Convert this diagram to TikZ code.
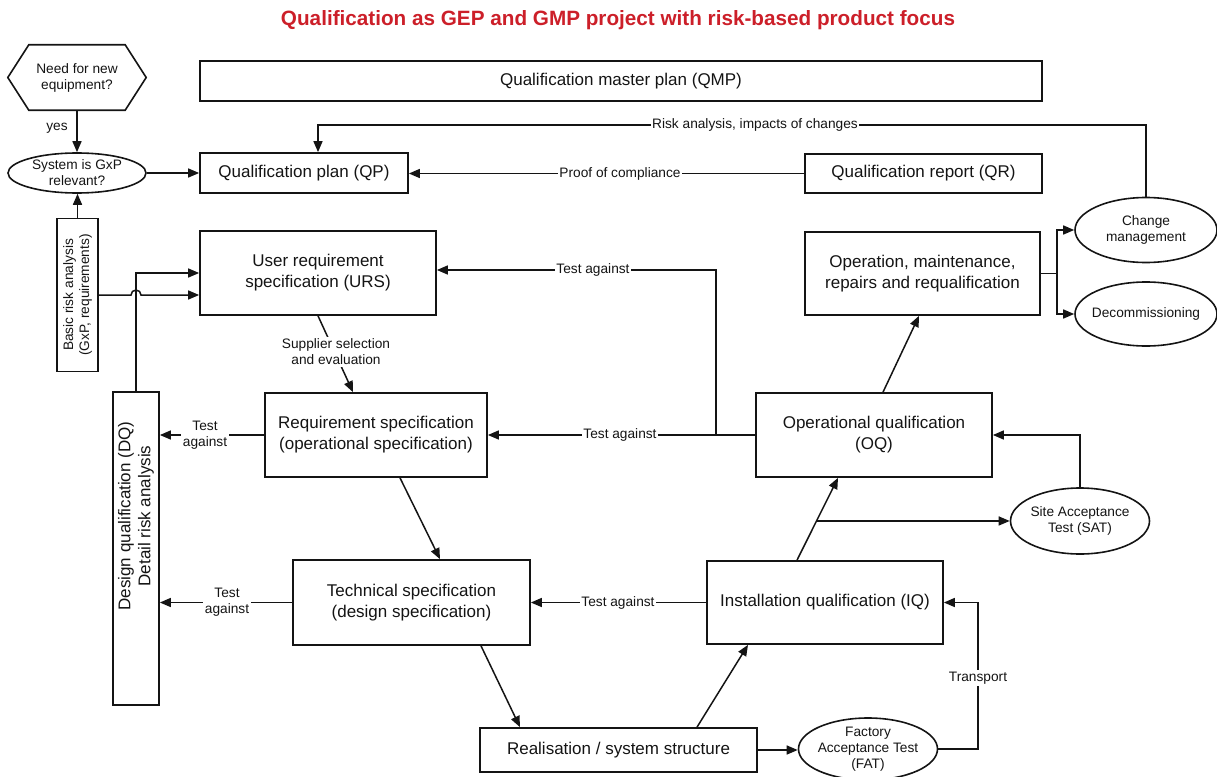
\documentclass[tikz,border=0pt]{standalone}
\usepackage{fontspec}
\setmainfont{Liberation Sans}
\usetikzlibrary{shapes.geometric,arrows.meta,calc}
\definecolor{titlered}{RGB}{204,31,41}
\definecolor{ink}{RGB}{20,20,20}
\begin{document}
\begin{tikzpicture}[x=1pt,y=-1pt,
  every node/.style={inner sep=0pt, text=ink},
  box/.style={draw=ink, line width=1.7pt, align=center, font=\fontsize{17}{21}\selectfont},
  ell/.style={draw=ink, line width=1.6pt, ellipse},
  txt/.style={align=center, font=\fontsize{13.7}{16}\selectfont},
  lbl/.style={fill=white, inner sep=1.5pt, align=center, font=\fontsize{13.7}{16}\selectfont},
  link/.style={draw=ink, line width=1.5pt},
  arr/.style={link, -{Triangle[length=11pt,width=9pt]}},
]
\useasboundingbox (0,0) rectangle (1217,776);

% heading
\node[font=\fontsize{20.7}{24}\selectfont\bfseries, text=titlered] (title) at (618,20)
  {Qualification as GEP and GMP project with risk-based product focus};

% entry decision and GxP check
\node[txt, minimum width=138pt, minimum height=65pt] (need) at (77,77.5) {Need for new\\equipment?};
\draw[link, line width=1.6pt] (need.west) -- ([xshift=21pt]need.north west)
  -- ([xshift=-21pt]need.north east) -- (need.east)
  -- ([xshift=-21pt]need.south east) -- ([xshift=21pt]need.south west) -- cycle;
\node[ell, minimum width=138pt, minimum height=40pt] (gxp) at (77,173) {};
\node[txt] (gxptxt) at (gxp.center) {System is GxP\\relevant?};
\node[box, minimum width=41pt, minimum height=153pt] (bra) at (77.5,295) {};
\node[txt, rotate=90] (bratxt) at (bra.center) {Basic risk analysis\\(GxP, requirements)};

% plans and reports
\node[box, minimum width=842pt, minimum height=40pt] (qmp) at (621,81) {Qualification master plan (QMP)};
\node[box, minimum width=208pt, minimum height=40pt] (qp) at (304,173) {Qualification plan (QP)};
\node[box, minimum width=237pt, minimum height=39pt] (qr) at (923.5,173.5) {Qualification report (QR)};

% V-model boxes
\node[box, minimum width=236pt, minimum height=84pt] (urs) at (318,273) {User requirement\\specification (URS)};
\node[box, minimum width=222pt, minimum height=84pt] (req) at (376,435) {Requirement specification\\(operational specification)};
\node[box, minimum width=237pt, minimum height=85pt] (tech) at (411.5,602.5) {Technical specification\\(design specification)};
\node[box, minimum width=277pt, minimum height=44pt] (real) at (618.5,750) {Realisation / system structure};
\node[box, minimum width=236pt, minimum height=83pt] (iq) at (825,602.5) {Installation qualification (IQ)};
\node[box, minimum width=236pt, minimum height=84pt] (oq) at (874,435) {Operational qualification\\(OQ)};
\node[box, minimum width=235pt, minimum height=83pt] (op) at (922.5,273.5) {Operation, maintenance,\\repairs and requalification};

% design qualification column
\node[box, minimum width=46pt, minimum height=313pt] (dq) at (136,548.5) {};
\node[rotate=90, align=center, font=\fontsize{17}{20}\selectfont] (dqtxt) at (136,516)
  {Design qualification (DQ)\\Detail risk analysis};

% tests and follow-up ellipses
\node[ell, minimum width=139pt, minimum height=62pt] (fat) at (868,749) {};
\node[txt] (fattxt) at (fat.center) {Factory\\Acceptance Test\\(FAT)};
\node[ell, minimum width=139pt, minimum height=66pt] (sat) at (1080,521) {};
\node[txt] (sattxt) at (sat.center) {Site Acceptance\\Test (SAT)};
\node[ell, minimum width=142pt, minimum height=65pt] (cm) at (1146,230) {};
\node[txt] (cmtxt) at (cm.center) {Change\\management};
\node[ell, minimum width=142pt, minimum height=64pt] (dec) at (1146,314) {};
\node[txt] (dectxt) at (dec.center) {Decommissioning};

% helper points
\coordinate (dqup) at (136,273);
\coordinate (riskc) at (318,125);
\coordinate (tj) at (716,435);
\coordinate (tu) at (716,270);
\coordinate (tr) at (978,602.5);

% connectors on the left
\draw[arr] (need.south) -- (gxp.north);
\node[txt] (yes) at (57,128) {yes};
\draw[arr] (gxp.east) -- (qp.west |- gxp.east);
\draw[arr] (bra.north) -- (bra.north |- gxp.south);
\draw[arr] (bra.east) -- (131,295) arc (180:360:5) -- (urs.west |- bra.east);
\draw[arr] (dq.north) -- (dqup) -- (urs.west |- dqup);

% feedback to the qualification plan
\draw[arr] (qr.west) -- (qp.east |- qr.west);
\node[lbl] (proof) at (620,173.5) {Proof of compliance};
\draw[arr] (cm.north) |- (riskc) -- (qp.north -| riskc);
\node[lbl] (risk) at (755,125) {Risk analysis, impacts of changes};

% specification chain
\draw[arr] (urs.south) -- ([xshift=-23pt]req.north);
\node[lbl] (supp) at (336,352) {Supplier selection\\and evaluation};
\draw[arr] ([xshift=24pt]req.south) -- ([xshift=28.5pt]tech.north);
\draw[arr] ([xshift=69.5pt]tech.south) -- ([xshift=-98.5pt]real.north);
\draw[arr] ([xshift=78.5pt]real.north) -- ([xshift=-77pt]iq.south);

% tests against the design qualification
\draw[arr] (req.west) -- (dq.east |- req.west);
\node[lbl] (ta1) at (205,435) {Test\\against};
\draw[arr] (tech.west) -- (dq.east |- tech.west);
\node[lbl] (ta2) at (227,602.5) {Test\\against};

% tests against the specifications
\draw[arr] (oq.west) -- (req.east |- oq.west);
\node[lbl] (ta3) at (620,435) {Test against};
\draw[arr] (tj) -- (tu) -- (urs.east |- tu);
\node[lbl] (ta4) at (593,270) {Test against};
\draw[arr] (iq.west) -- (tech.east |- iq.west);
\node[lbl] (ta5) at (618,602.5) {Test against};

% acceptance tests
\draw[arr] (real.east) -- (fat.west |- real.east);
\draw[arr] (fat.east) -| (tr) -- (iq.east);
\node[lbl] (transp) at (978,678) {Transport};
\draw[arr] ([xshift=-28pt]iq.north) -- coordinate[pos=0.476] (br) ([xshift=-36pt]oq.south);
\draw[arr] (br) -- (sat.west |- br);
\draw[arr] (sat.north) |- (oq.east);

% operation and its follow-ups
\draw[arr] ([xshift=9pt]oq.north) -- ([xshift=-3.5pt]op.south);
\draw[arr] (op.east) -- ++(16,0) |- (cm.west);
\draw[arr] (op.east) -- ++(16,0) |- (dec.west);
\end{tikzpicture}
\end{document}
